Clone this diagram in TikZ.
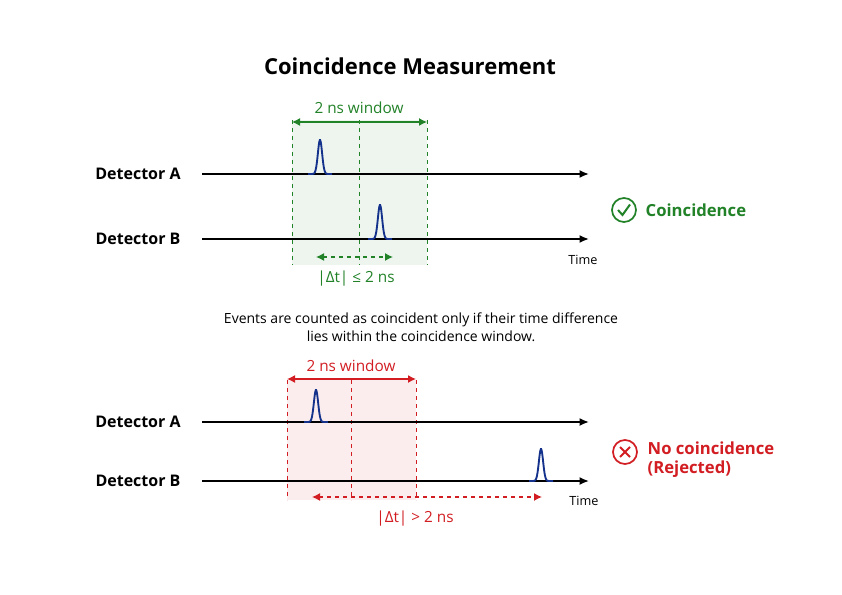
\documentclass[tikz,border=0pt]{standalone}
\usepackage{fontspec}
\setmainfont{Open Sans}
\usepackage{xcolor}
\usepackage{tikz}
\usetikzlibrary{arrows.meta}

\definecolor{okgreen}{RGB}{34,130,40}
\definecolor{badred}{RGB}{210,30,35}
\definecolor{pulseblue}{RGB}{20,50,140}

\tikzset{
  axis/.style={line width=1.3pt,-{Latex[length=7pt,width=6pt]}},
  win/.style={dashed,line width=0.6pt},
  dim/.style={line width=1pt,{Latex[length=6pt,width=6pt]}-{Latex[length=6pt,width=6pt]}},
  pulse/.style={pulseblue,line width=1.4pt},
  det/.style={font=\bfseries\fontsize{12}{14}\selectfont,anchor=center},
  lab/.style={font=\fontsize{11.5}{13}\selectfont},
}
\newcommand{\pulseat}[3]{\draw[pulse,domain=-12:12,samples=60] plot ({#1+\x},{#2-#3*exp(-(\x*\x)/9)});}

\begin{document}
\begin{tikzpicture}[x=0.75pt,y=0.75pt,yscale=-1,xscale=1]
\useasboundingbox (0,0) rectangle (842,595);
\fill[white] (0,0) rectangle (842,595);

\node[font=\bfseries\fontsize{16.5}{19}\selectfont] (title) at (410,66) {Coincidence Measurement};

% top panel: coincidence
\fill[okgreen!8] (292,120) rectangle (427,265);
\draw[win,okgreen] (292,120) -- (292,265);
\draw[win,okgreen] (359,120) -- (359,265);
\draw[win,okgreen] (427,120) -- (427,265);
\coordinate (wl1) at (292,122);
\coordinate (wr1) at (427,122);
\draw[dim,okgreen] (wl1) -- (wr1);
\node[okgreen,lab] (win1) at (359,108) {2 ns window};

\node[det] (detA1) at (138,174) {Detector A};
\node[det] (detB1) at (138,239) {Detector B};
\coordinate (a1s) at (202,174);
\coordinate (a1e) at (589,174);
\coordinate (b1s) at (202,239);
\coordinate (b1e) at (589,239);
\draw[axis] (a1s) -- (a1e);
\draw[axis] (b1s) -- (b1e);
\pulseat{320}{174}{34}
\pulseat{380}{239}{34}
\node[font=\fontsize{9.5}{11}\selectfont] (time1) at (583,260) {Time};

\coordinate (d1l) at (316,257);
\coordinate (d1r) at (393,257);
\draw[dim,dashed,okgreen] (d1l) -- (d1r);
\node[okgreen,lab] (dt1) at (356,279) {|Δt| ≤ 2 ns};

\draw[okgreen,line width=1.3pt] (624,210) circle (12);
\draw[okgreen,line width=1.5pt] (618,210) -- (622.5,215) -- (630,204.5);
\node[okgreen,font=\bfseries\fontsize{12.5}{14}\selectfont,anchor=west] (res1) at (641,210) {Coincidence};

\node[align=center,font=\fontsize{10.5}{13.5}\selectfont] (note) at (421,327) {Events are counted as coincident only if their time difference\\lies within the coincidence window.};

% bottom panel: rejected
\fill[badred!8] (287,380) rectangle (416,500);
\draw[win,badred] (287,380) -- (287,500);
\draw[win,badred] (351,380) -- (351,500);
\draw[win,badred] (416,380) -- (416,500);
\coordinate (wl2) at (287,379);
\coordinate (wr2) at (416,379);
\draw[dim,badred] (wl2) -- (wr2);
\node[badred,lab] (win2) at (351,366) {2 ns window};

\node[det] (detA2) at (138,422) {Detector A};
\node[det] (detB2) at (138,481) {Detector B};
\coordinate (a2s) at (202,422);
\coordinate (a2e) at (589,422);
\coordinate (b2s) at (202,481);
\coordinate (b2e) at (589,481);
\draw[axis] (a2s) -- (a2e);
\draw[axis] (b2s) -- (b2e);
\pulseat{316}{422}{32}
\pulseat{541}{481}{32}
\node[font=\fontsize{9.5}{11}\selectfont] (time2) at (584,501) {Time};

\coordinate (d2l) at (312,497);
\coordinate (d2r) at (542,497);
\draw[dim,dashed,badred] (d2l) -- (d2r);
\node[badred,lab] (dt2) at (415,519) {|Δt| > 2 ns};

\draw[badred,line width=1.3pt] (625,452) circle (12);
\draw[badred,line width=1.5pt] (620,447) -- (630,457) (630,447) -- (620,457);
\node[badred,font=\bfseries\fontsize{12.5}{14}\selectfont,anchor=west,align=left] (res2) at (643,460) {No coincidence\\(Rejected)};
\end{tikzpicture}
\end{document}
